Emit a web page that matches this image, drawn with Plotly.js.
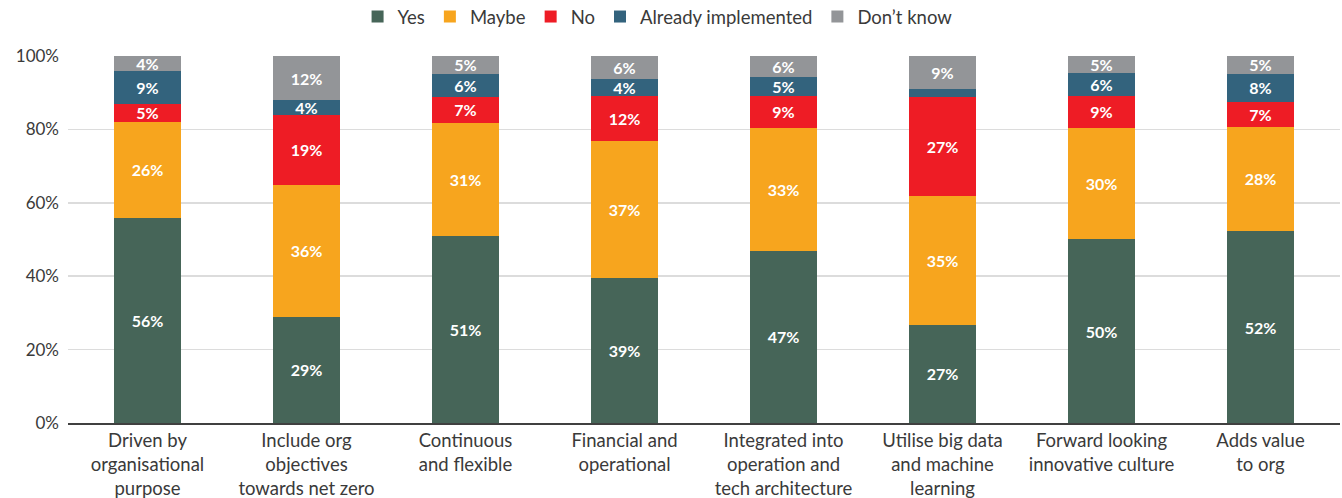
<!DOCTYPE html>
<html>
<head>
<meta charset="utf-8">
<script src="https://cdn.plot.ly/plotly-3.0.1.min.js"></script>
<style>html,body{margin:0;padding:0;background:#fff;}#chart{width:1342px;height:498px;}</style>
</head>
<body>
<div id="chart"></div>
<script>
const categories = [
  "Driven by<br>organisational<br>purpose",
  "Include org<br>objectives<br>towards net zero",
  "Continuous<br>and flexible",
  "Financial and<br>operational",
  "Integrated into<br>operation and<br>tech architecture",
  "Utilise big data<br>and machine<br>learning",
  "Forward looking<br>innovative culture",
  "Adds value<br>to org"
];
const yes         = [55.9, 29.0, 51.0, 39.4, 47.0, 26.8, 50.1, 52.3];
const maybe       = [26.1, 35.9, 30.8, 37.4, 33.4, 35.1, 30.4, 28.4];
const no          = [5.0, 19.0, 7.0, 12.4, 8.8, 26.9, 8.7, 6.8];
const already     = [8.9, 4.1, 6.3, 4.4, 5.2, 2.2, 6.2, 7.6];
const dontKnow    = [4.1, 12.0, 4.9, 6.4, 5.6, 9.0, 4.6, 4.9];
const seriesNames = ["Yes", "Maybe", "No", "Already implemented", "Don\u2019t know"];
const seriesColors = ["#466558", "#F7A51E", "#EE1C25", "#33637D", "#939598"];
const tickVals = [0, 20, 40, 60, 80, 100];
const tickText = ["0%", "20%", "40%", "60%", "80%", "100%"];

const FONT = "Lato, 'Open Sans', sans-serif";
const seriesValues = [yes, maybe, no, already, dontKnow];
const traces = seriesValues.map((vals, i) => ({
  type: "bar",
  name: seriesNames[i],
  x: categories,
  y: vals,
  marker: {color: seriesColors[i], line: {width: 0}},
  text: vals.map(v => v >= 3 ? Math.round(v) + "%" : ""),
  texttemplate: "%{text}",
  textposition: "inside",
  insidetextanchor: "middle",
  textangle: 0,
  textfont: {color: "#ffffff", size: 16, family: FONT, weight: "bold"},
  hoverinfo: "skip"
}));

const layout = {
  width: 1342, height: 498,
  barmode: "stack",
  bargap: 0.58,
  margin: {l: 68, r: 2, t: 56, b: 74.5},
  paper_bgcolor: "#ffffff",
  plot_bgcolor: "#ffffff",
  font: {family: FONT, color: "#3a3a3a", size: 17},
  uniformtext: {mode: "show", minsize: 16},
  showlegend: true,
  legend: {
    orientation: "h", traceorder: "normal",
    x: 0.49, xanchor: "center", xref: "container",
    y: 1 - 17/498, yanchor: "middle", yref: "container",
    font: {size: 18.5, color: "#3a3a3a", family: FONT},
    itemwidth: 30, itemclick: false
  },
  xaxis: {
    type: "category",
    tickfont: {size: 18.5, color: "#3a3a3a", family: FONT},
    showgrid: false, showline: true, linecolor: "#404040", linewidth: 2,
    ticks: "", fixedrange: true
  },
  yaxis: {
    range: [0, 100],
    tickvals: tickVals, ticktext: tickText,
    tickfont: {size: 17, color: "#3a3a3a", family: FONT},
    showgrid: true, gridcolor: "#dcdcdc", gridwidth: 1.5,
    zeroline: false, showline: false, ticks: "", ticklabelstandoff: 8,
    fixedrange: true
  }
};

Plotly.newPlot("chart", traces, layout, {displayModeBar: false, staticPlot: true});
</script>
</body>
</html>
